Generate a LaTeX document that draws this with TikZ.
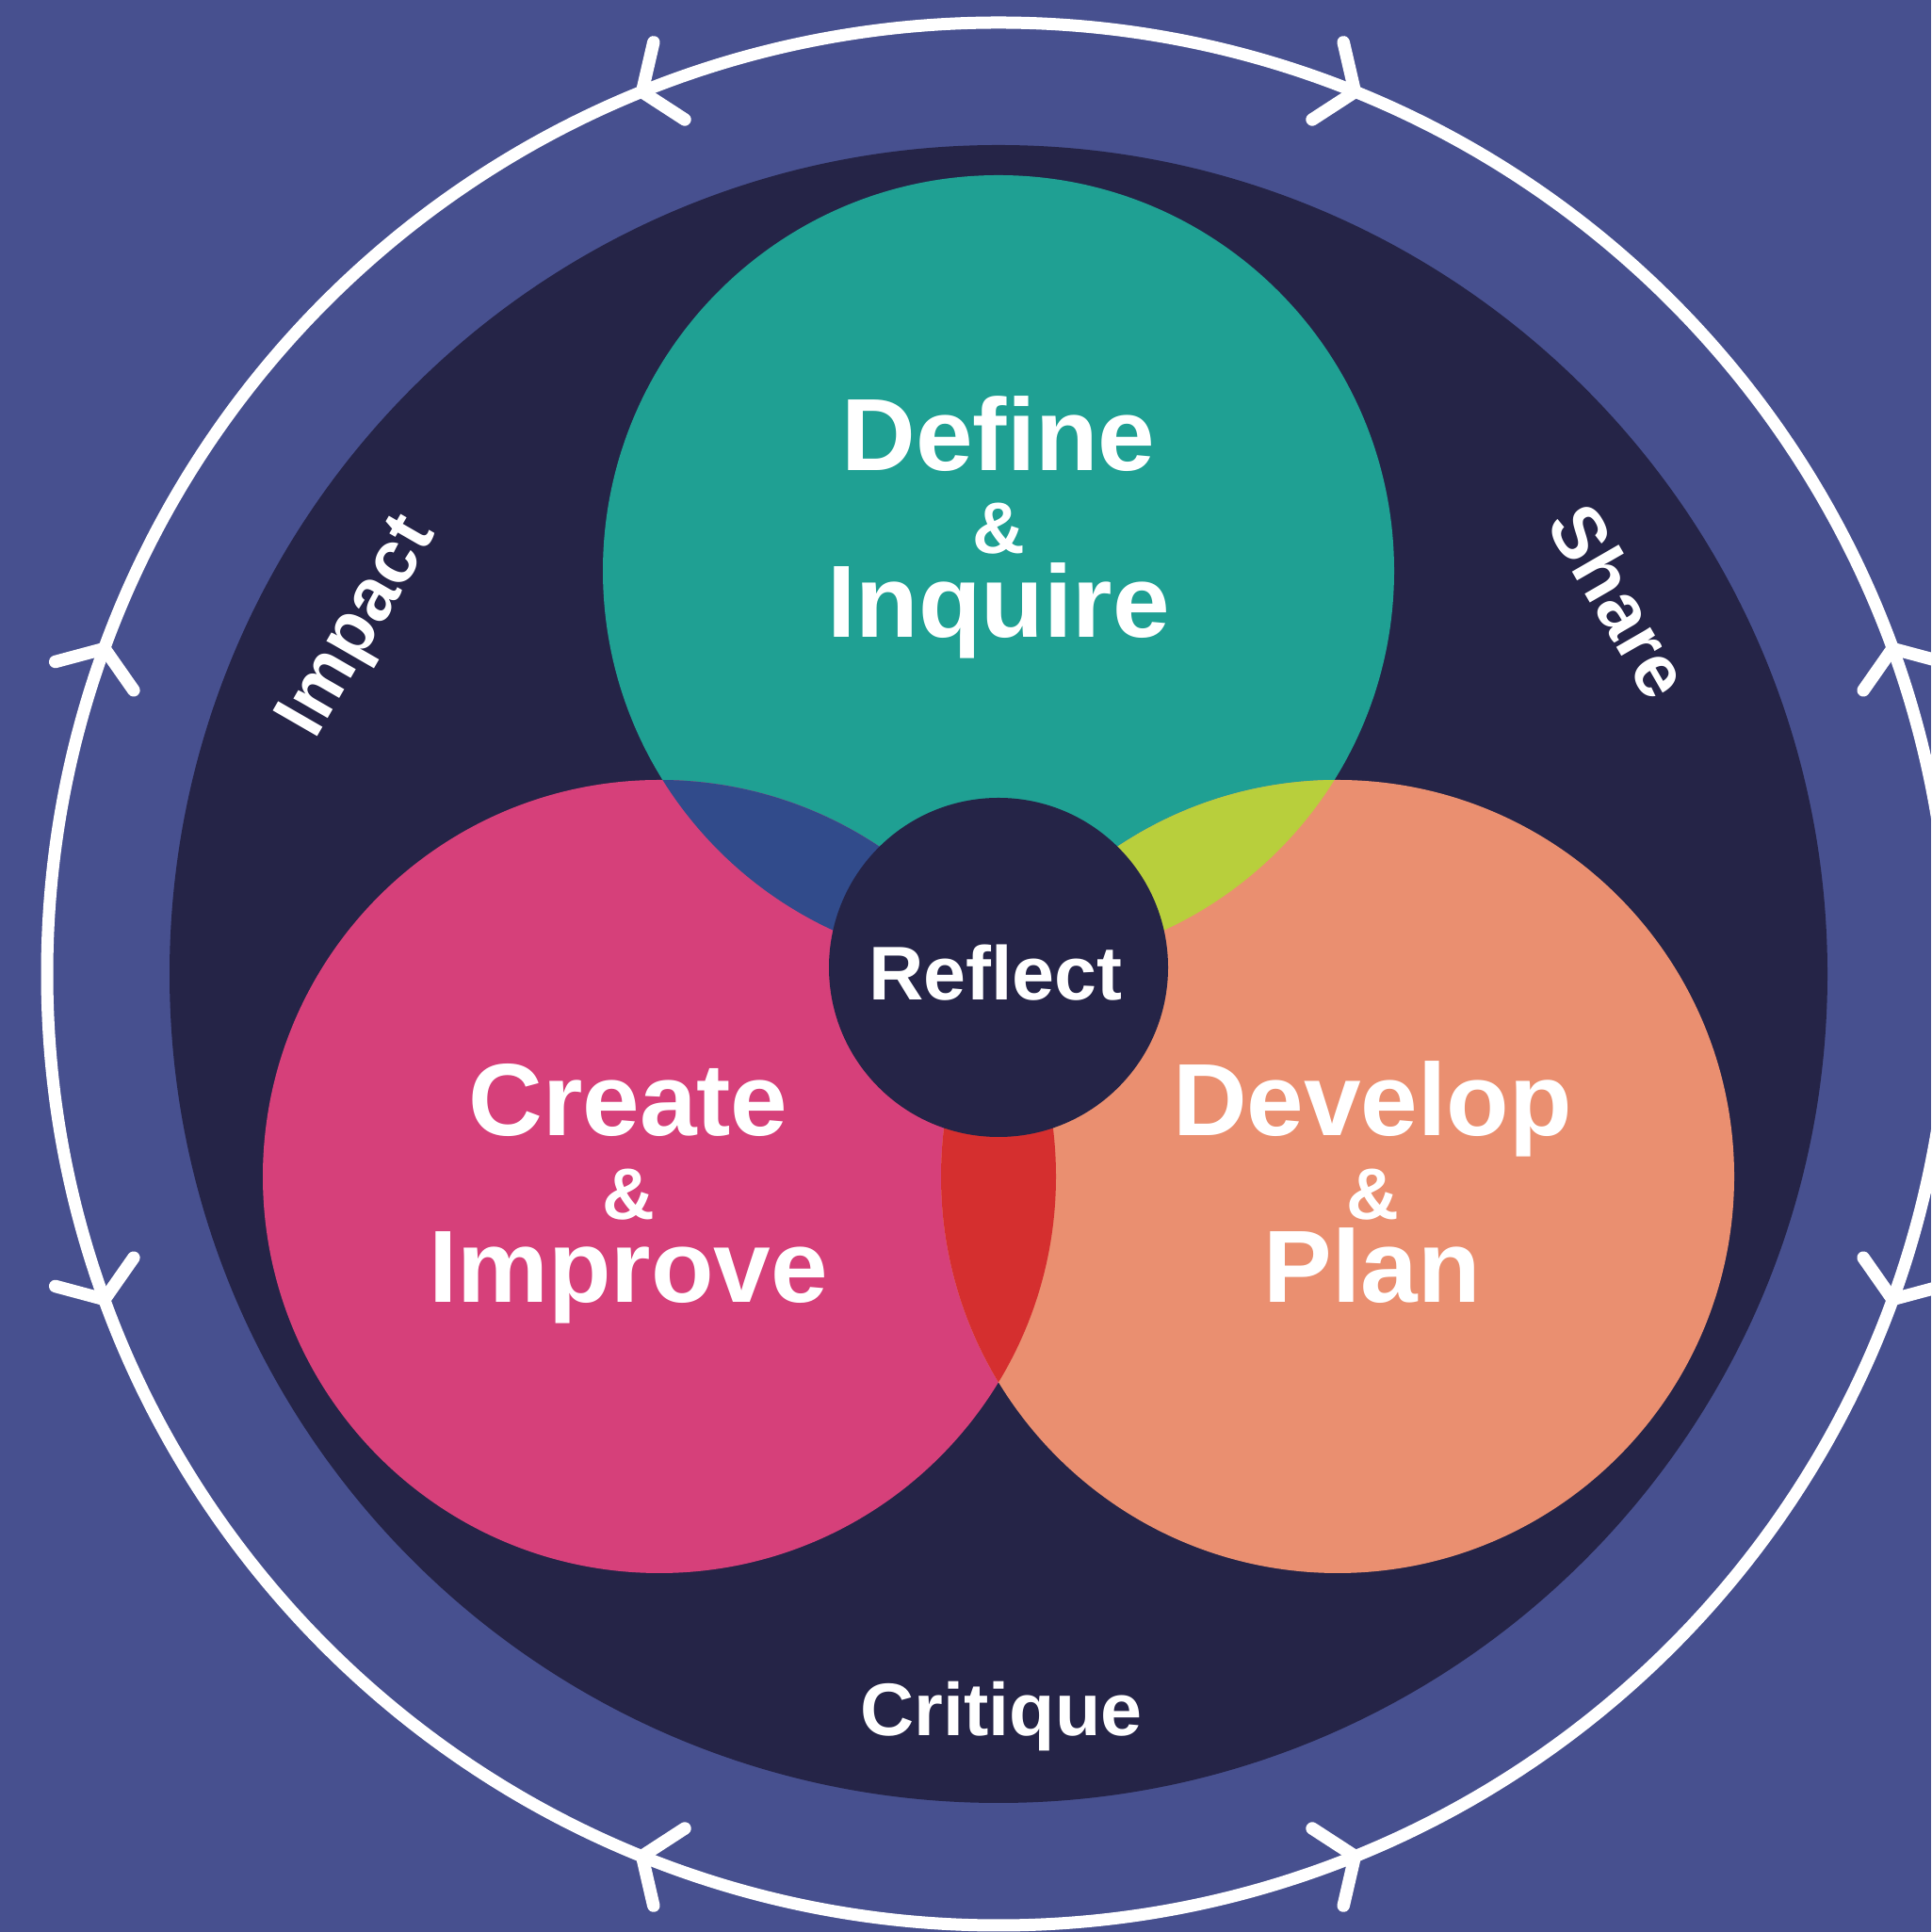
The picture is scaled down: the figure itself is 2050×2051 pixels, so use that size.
\documentclass[tikz,border=0pt]{standalone}
\usepackage{fontspec}
\setmainfont{Liberation Sans}
\definecolor{bgblue}{HTML}{47508F}
\definecolor{darkbg}{HTML}{252447}
\definecolor{teal}{HTML}{1FA093}
\definecolor{pinkc}{HTML}{D6407A}
\definecolor{orangec}{HTML}{EA8F70}
\definecolor{blueov}{HTML}{314B8B}
\definecolor{limeov}{HTML}{B8CF3C}
\definecolor{redov}{HTML}{D52F2F}
\begin{document}
\begin{tikzpicture}[x=0.1mm,y=0.1mm,
  big/.style={text=white,inner sep=0pt,anchor=base,font=\fontsize{31pt}{37pt}\selectfont\bfseries},
  amp/.style={text=white,inner sep=0pt,anchor=base,font=\fontsize{22pt}{26pt}\selectfont\bfseries},
  mid/.style={text=white,inner sep=0pt,font=\fontsize{22.5pt}{27pt}\selectfont\bfseries},
  refl/.style={text=white,inner sep=0pt,anchor=base,font=\fontsize{23pt}{28pt}\selectfont\bfseries},
  ring/.style={white,line width=1.3mm},
  chev/.style={white,line width=1.35mm,line cap=round,line join=round}]
\useasboundingbox (0,0) rectangle (2050,2051);
\clip (0,0) rectangle (2050,2051);
\fill[bgblue] (0,0) rectangle (2050,2051);
\coordinate (O) at (1060,1017);
\coordinate (T) at (1060,1445);
\coordinate (P) at (700,802);
\coordinate (G) at (1420,802);
\coordinate (R) at (1060,1024);
% dark disc and ring
\fill[darkbg] (O) circle (880);
\draw[ring] (O) circle (1010);
% arrows on the ring
\foreach \a/\s in {112/1,68/-1,160/-1,200/1,248/-1,292/1,340/-1,20/1}{
  \pgfmathsetmacro\b{\a-\s*90}
  \path (O) ++(\a:1010) coordinate (tip);
  \draw[chev] (tip) ++(\b+55:54) -- (tip) -- ++(\b-55:54);
}
% three circles
\fill[teal] (T) circle (420);
\fill[pinkc] (P) circle (421);
\fill[orangec] (G) circle (421);
\begin{scope}
  \clip (T) circle (420);
  \fill[blueov] (P) circle (421);
  \fill[limeov] (G) circle (421);
\end{scope}
\begin{scope}
  \clip (P) circle (421);
  \fill[redov] (G) circle (421);
\end{scope}
\fill[darkbg] (R) circle (180);
% labels
\node[big] (define) at (1060,1551) {Define};
\node[amp] (amp1) at (1060,1463) {\&};
\node[big] (inquire) at (1060,1374) {Inquire};
\node[big] (create) at (667,845) {Create};
\node[amp] (amp2) at (667,756) {\&};
\node[big] (improve) at (667,668) {Improve};
\node[big] (develop) at (1457,845) {Develop};
\node[amp] (amp3) at (1457,756) {\&};
\node[big] (plan) at (1457,668) {Plan};
\node[refl] (reflect) at (1057,989) {Reflect};
\node[mid,rotate=60] (impact) at (382,1384) {Impact};
\node[mid,rotate=-60] (share) at (1720,1413) {Share};
\node[mid,anchor=base] (critique) at (1063,208) {Critique};
\end{tikzpicture}
\end{document}
